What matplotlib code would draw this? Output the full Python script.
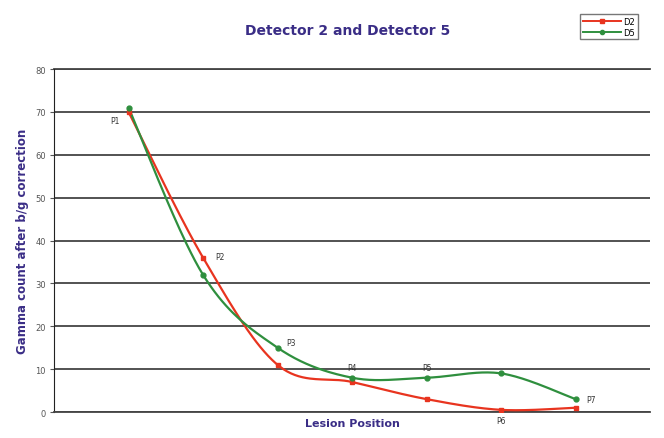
import numpy as np
import matplotlib.pyplot as plt

# Lesion positions and counts after background correction
posiciones = ["P1", "P2", "P3", "P4", "P5", "P6", "P7"]
d2 = [70, 36, 11, 7, 3, 0.5, 1]
d5 = [71, 32, 15, 8, 8, 9, 3]


def suavizar(xs, ys, n=40):
    # Bezier cubica con tangentes tipo Catmull-Rom (como "linea suavizada")
    xs = np.asarray(xs, float)
    ys = np.asarray(ys, float)
    px = np.concatenate([[xs[0]], xs, [xs[-1]]])
    py = np.concatenate([[ys[0]], ys, [ys[-1]]])
    out_x, out_y = [], []
    t = np.linspace(0, 1, n)
    for i in range(1, len(px) - 2):
        p0 = np.array([px[i], py[i]])
        p3 = np.array([px[i + 1], py[i + 1]])
        c1 = p0 + (np.array([px[i + 1], py[i + 1]]) - np.array([px[i - 1], py[i - 1]])) / 6
        c2 = p3 - (np.array([px[i + 2], py[i + 2]]) - np.array([px[i], py[i]])) / 6
        b = ((1 - t) ** 3)[:, None] * p0 + (3 * (1 - t) ** 2 * t)[:, None] * c1 \
            + (3 * (1 - t) * t ** 2)[:, None] * c2 + (t ** 3)[:, None] * p3
        out_x.extend(b[:, 0])
        out_y.extend(b[:, 1])
    return out_x, out_y


rojo = "#e8341f"
verde = "#2f8f3e"
azul = "#3a2d86"

x = np.arange(1, len(posiciones) + 1)

fig = plt.figure(figsize=(6.64, 4.39), dpi=100)
ax = fig.add_axes([0.0813, 0.0592, 0.898, 0.7813])

sx, sy = suavizar(x, d2)
ax.plot(sx, sy, color=rojo, lw=1.6, zorder=3)
ax.plot(x, d2, 's', color=rojo, ms=3.5, zorder=4)
sx, sy = suavizar(x, d5)
ax.plot(sx, sy, color=verde, lw=1.6, zorder=3)
ax.plot(x, d5, 'o', color=verde, ms=3.5, zorder=4)

# etiquetas de cada posicion
desplaz = [(-10, -6), (12, 1), (10, 4), (0, 7), (0, 7), (0, -8), (11, 0)]
for i, (dx, dy) in enumerate(desplaz):
    base = d2[i] if i in (0, 1, 5) else d5[i]
    ax.annotate(posiciones[i], (x[i], base), xytext=(dx, dy), textcoords='offset points',
                fontsize=5.5, color='#333333', ha='center', va='center')

ax.set_xlim(0, 8)
ax.set_ylim(0, 80)
ax.set_yticks(range(0, 81, 10))
ax.set_xticks([])
ax.yaxis.grid(True, color='#444444', lw=1.3)
ax.axhline(80, color='#444444', lw=1.3, clip_on=False, zorder=1)
ax.set_axisbelow(True)
for s in ['top', 'right']:
    ax.spines[s].set_visible(False)
ax.spines['bottom'].set_color('#444444')
ax.spines['bottom'].set_linewidth(1.3)
ax.spines['left'].set_color('#222222')
ax.tick_params(axis='y', labelsize=6, colors='#555555', length=3, pad=3)

ax.set_ylabel("Gamma count after b/g correction", fontsize=8.5, fontweight='bold',
              color=azul, labelpad=4)
ax.set_xlabel("Lesion Position", fontsize=8, fontweight='bold', color=azul, labelpad=4)
fig.text(0.524, 0.93, "Detector 2 and Detector 5", fontsize=10, fontweight='bold',
         color=azul, ha='center', va='center')

# leyenda
h1, = ax.plot([], [], '-s', color=rojo, ms=3, lw=1.4)
h2, = ax.plot([], [], '-o', color=verde, ms=3, lw=1.4)
fig.legend([h1, h2], ["D2", "D5"], loc='upper left', bbox_to_anchor=(0.874, 0.966),
           fontsize=6, frameon=True, fancybox=False, edgecolor='#555555',
           handlelength=4.5, handletextpad=0.3, borderpad=0.35, labelspacing=0.2,
           borderaxespad=0)

fig.savefig("out.png", dpi=100, facecolor='white')
